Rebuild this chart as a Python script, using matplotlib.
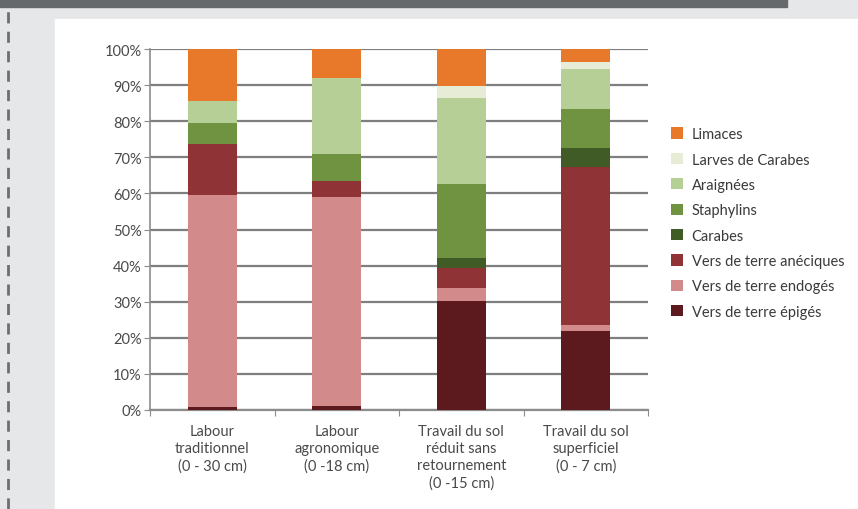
import matplotlib
matplotlib.use("Agg")
import matplotlib.pyplot as plt
from matplotlib.patches import Rectangle
from matplotlib.lines import Line2D
import numpy as np

plt.rcParams['font.family'] = ['Lato', 'DejaVu Sans']

# categories (x axis)
categories = ["Labour\ntraditionnel\n(0 - 30 cm)",
              "Labour\nagronomique\n(0 -18 cm)",
              "Travail du sol\nréduit sans\nretournement\n(0 -15 cm)",
              "Travail du sol\nsuperficiel\n(0 - 7 cm)"]

# series, bottom to top (% of total)
epiges = [0.8, 1.2, 30.3, 21.8]
endoges = [58.8, 57.7, 3.5, 1.8]
aneciques = [14.1, 4.4, 5.4, 43.7]
carabes = [0, 0, 2.9, 5.2]
staphylins = [5.7, 7.7, 20.4, 10.8]
araignees = [6.3, 21.0, 23.8, 11.2]
larves = [0, 0, 3.4, 1.8]
limaces = [14.3, 8.0, 10.3, 3.7]

series_names = ["Vers de terre épigés", "Vers de terre endogés", "Vers de terre anéciques",
                "Carabes", "Staphylins", "Araignées", "Larves de Carabes", "Limaces"]
series_values = [epiges, endoges, aneciques, carabes, staphylins, araignees, larves, limaces]
colors = ["#5C1A1E", "#D38A8B", "#8F3336", "#415B26", "#6F9340",
          "#B6CF96", "#E6ECD6", "#E8782A"]

fig = plt.figure(figsize=(8.58, 5.10), dpi=100)
W, H = 858, 510

# page background
fig.patches.append(Rectangle((0, 0), 1, 1, transform=fig.transFigure,
                             color="#E6E7E8", zorder=-10))
fig.patches.append(Rectangle((55 / W, 0), 1 - 55 / W, 1 - 20 / H,
                             transform=fig.transFigure, color="white", zorder=-9))
fig.patches.append(Rectangle((0, 1 - 8 / H), 787 / W, 8 / H,
                             transform=fig.transFigure, color="#65696C", zorder=-8))
fig.lines.append(Line2D([8 / W, 8 / W], [0, 1 - 8 / H], transform=fig.transFigure,
                        color="#6B6F72", lw=2, ls=(0, (4, 3))))

ax = fig.add_axes([150 / W, (510 - 411) / H, 498 / W, 361 / H])
x = np.arange(len(categories))
bottom = np.zeros(len(categories))
for vals, c, name in zip(series_values, colors, series_names):
    ax.bar(x, vals, width=0.39, bottom=bottom, color=c, label=name, zorder=3)
    bottom += np.array(vals)

ax.set_xlim(-0.5, len(categories) - 0.5)
ax.set_ylim(0, 100)
ax.set_yticks(np.arange(0, 101, 10))
ax.set_yticklabels([f"{v}%" for v in range(0, 101, 10)])
ax.yaxis.grid(True, color="#7F7F7F", lw=1.6, zorder=1)
for s in ["top", "right"]:
    ax.spines[s].set_visible(False)
ax.spines["left"].set_color("#8C8C8C")
ax.spines["bottom"].set_color("#8C8C8C")
ax.spines["left"].set_linewidth(1.2)
ax.spines["bottom"].set_linewidth(1.6)
ax.tick_params(axis="y", length=4, color="#8C8C8C", labelsize=10.5,
               labelcolor="#4A4A4A", pad=2)

# category labels between boundary ticks
ax.set_xticks(np.arange(-0.5, len(categories)), minor=False)
ax.set_xticklabels([])
ax.tick_params(axis="x", length=4, color="#8C8C8C")
for xi, lab in zip(x, categories):
    ax.text(xi, -3.8, lab, ha="center", va="top", fontsize=10.5, color="#4A4A4A",
            linespacing=1.3, transform=ax.transData)

handles, labels = ax.get_legend_handles_labels()
leg = fig.legend(handles[::-1], labels[::-1], loc="upper left",
                 bbox_to_anchor=(658 / W, 1 - 115 / H), frameon=False,
                 fontsize=10.5, handlelength=0.8, handleheight=0.8,
                 handletextpad=0.6, labelspacing=0.78)
for t in leg.get_texts():
    t.set_color("#3A3A3A")

fig.savefig("out.png", dpi=100)
